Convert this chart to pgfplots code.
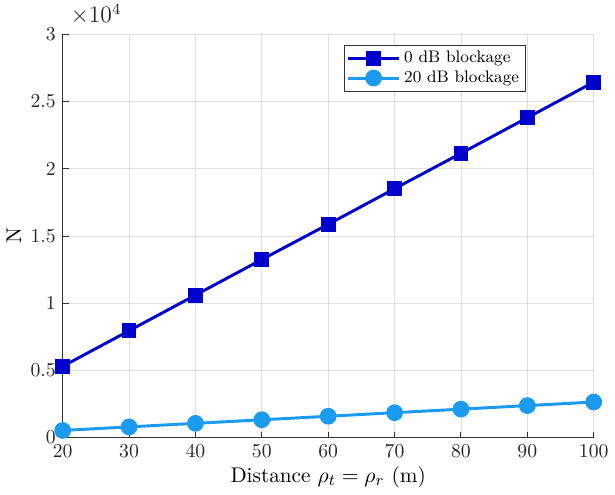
\documentclass[border=0pt]{standalone}
\usepackage{pgfplots}
\pgfplotsset{compat=1.18}
\definecolor{cdark}{RGB}{0,0,204}
\definecolor{clight}{RGB}{26,155,240}
\definecolor{axgray}{gray}{0.2}
\begin{document}
\begin{tikzpicture}
\begin{axis}[
  width=270pt, height=205pt, scale only axis,
  xmin=20, xmax=100, ymin=0, ymax=30000,
  xtick={20,30,...,100},
  ytick={0,5000,10000,15000,20000,25000,30000},
  yticklabels={0,0.5,1,1.5,2,2.5,3},
  scaled y ticks=false,
  axis x line*=bottom, axis y line*=left,
  axis line style={axgray, line width=0.6pt, -},
  tick align=inside,
  major tick length=3pt,
  tick style={axgray, line width=0.5pt},
  grid=major,
  major grid style={gray!25, line width=0.4pt},
  ticklabel style={text=black!85},
  xlabel={Distance $\rho_t=\rho_r$ (m)},
  ylabel={N},
  xlabel style={yshift=2pt, font=\fontsize{10.8}{12}\selectfont},
  ylabel style={yshift=-2pt, font=\fontsize{10.8}{12}\selectfont},
  legend style={at={(0.53,0.975)}, anchor=north west, draw=axgray, line width=0.5pt,
    font=\fontsize{8.5}{10}\selectfont, inner sep=1.2pt, row sep=-1.5pt,
    cells={anchor=west}},
  legend image code/.code={
    \draw[mark repeat=2,mark phase=2,#1] plot coordinates {(0cm,0cm) (0.45cm,0cm) (0.9cm,0cm)};
  },
  clip=false,
]
\addplot[cdark, line width=1.5pt, mark=square*, mark size=3pt, mark options={solid, fill=cdark}]
  coordinates {(20,5300) (30,7950) (40,10600) (50,13250) (60,15870) (70,18520) (80,21150) (90,23800) (100,26450)};
\addlegendentry{0 dB blockage}
\addplot[clight, line width=1.5pt, mark=*, mark size=3.5pt, mark options={solid, fill=clight}]
  coordinates {(20,530) (30,795) (40,1060) (50,1325) (60,1587) (70,1852) (80,2115) (90,2380) (100,2645)};
\addlegendentry{20 dB blockage}
\node[anchor=south west, inner sep=0pt, outer sep=0pt, text=black!85, font=\large] at ([xshift=4pt,yshift=5pt]rel axis cs:0,1) {$\times10^{4}$};
\end{axis}
\path ([yshift=2pt]current axis.outer north west);
\end{tikzpicture}
\end{document}
